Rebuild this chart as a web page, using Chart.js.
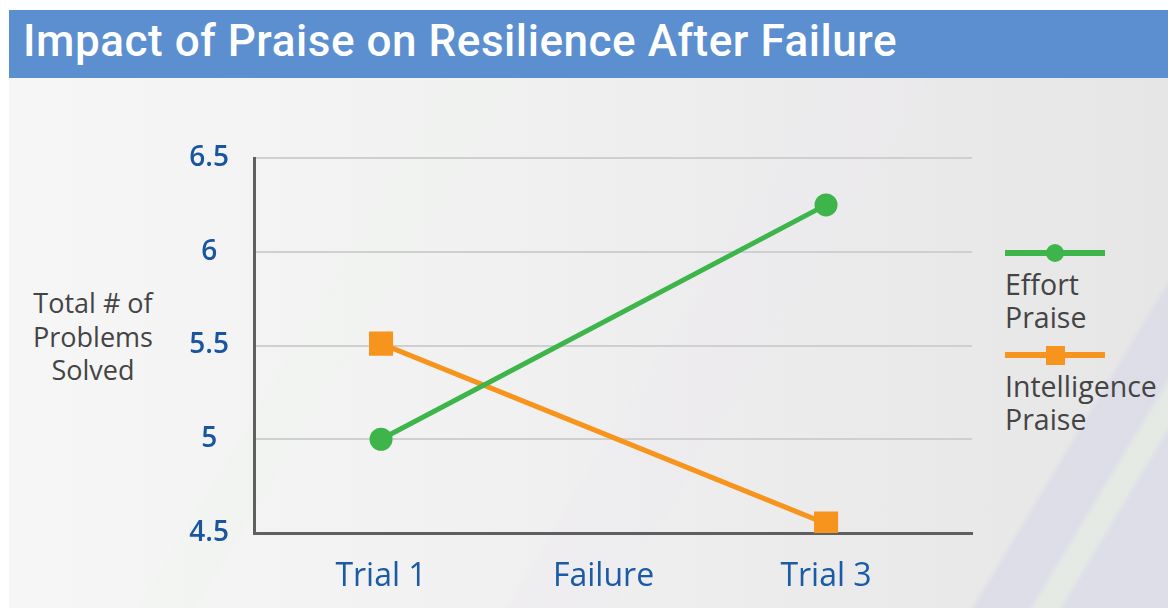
<!DOCTYPE html>
<html>
<head>
<meta charset="utf-8">
<script src="https://cdn.jsdelivr.net/npm/chart.js@4"></script>
<style>
  html, body { margin: 0; padding: 0; width: 1168px; height: 608px; background: #ffffff; overflow: hidden; }
  #title {
    position: absolute; left: 9px; top: 10px; width: 1159px; height: 68px;
    background: #5b8fd0; color: #ffffff;
    font-family: Roboto, "Noto Sans", sans-serif; font-size: 44px; font-weight: 500;
    line-height: 62px; padding-left: 14px; box-sizing: border-box; letter-spacing: 0.55px;
  }
  #body {
    position: absolute; left: 9px; top: 78px; width: 1159px; height: 530px;
    background:
      linear-gradient(121deg, rgba(255,255,255,0) 0%, rgba(255,255,255,0) 86.5%, rgba(218,218,232,0.75) 87%, rgba(218,218,232,0.75) 90.5%, rgba(228,234,228,0.8) 91%, rgba(228,234,228,0.8) 92.5%, rgba(218,218,232,0.7) 93%, rgba(218,218,232,0.7) 100%),
      linear-gradient(121deg, rgba(255,255,255,0) 0%, rgba(255,255,255,0) 30%, rgba(238,244,238,0.45) 30.5%, rgba(238,244,238,0.45) 34%, rgba(255,255,255,0) 34.5%, rgba(255,255,255,0) 55%, rgba(236,232,240,0.35) 55.5%, rgba(236,232,240,0.35) 62%, rgba(255,255,255,0) 62.5%),
      linear-gradient(90deg, #f6f6f6 0%, #f1f1f1 40%, #ebebeb 70%, #e6e6e7 100%);
  }
  #ytitle {
    position: absolute; left: 6px; top: 286px; width: 174px; text-align: center;
    font-family: "Open Sans", sans-serif; font-size: 27px; line-height: 33.5px; color: #444444;
  }
  #legend { position: absolute; left: 1005px; top: 238px; font-family: "Open Sans", sans-serif; }
  .item { margin-bottom: 6px; }
  .swatch { position: relative; width: 100px; height: 30px; }
  .swatch .ln { position: absolute; left: 0; top: 12px; width: 100px; height: 6px; }
  .swatch .mk { position: absolute; }
  .lbl { font-size: 28.5px; line-height: 33px; color: #444444; margin-left: 0px; }
  #wrap { position: absolute; left: 0; top: 0; width: 1168px; height: 608px; }
</style>
</head>
<body>
<div id="title">Impact of Praise on Resilience After Failure</div>
<div id="body"></div>
<div id="ytitle">Total # of<br>Problems<br>Solved</div>
<div id="legend"></div>
<div id="wrap"><canvas id="c" width="1168" height="608"></canvas></div>
<script>
const categories = ['Trial 1', 'Failure', 'Trial 3'];
const effortPraise = [5.0, null, 6.25];
const intelligencePraise = [5.51, null, 4.55];
const yTicks = [4.5, 5, 5.5, 6, 6.5];
const seriesNames = [['Effort', 'Praise'], ['Intelligence', 'Praise']];

const GREEN = '#3db54a';
const ORANGE = '#f7941d';

const toPoints = arr => categories.map((c, i) => ({ x: i, y: arr[i] }));

const chart = new Chart(document.getElementById('c'), {
  type: 'line',
  data: {
    datasets: [
      {
        label: seriesNames[0].join(' '),
        data: toPoints(effortPraise),
        borderColor: GREEN, backgroundColor: GREEN,
        borderWidth: 5, pointStyle: 'circle', pointRadius: 9, pointHoverRadius: 9,
        spanGaps: true, tension: 0
      },
      {
        label: seriesNames[1].join(' '),
        data: toPoints(intelligencePraise),
        borderColor: ORANGE, backgroundColor: ORANGE,
        borderWidth: 5, pointStyle: 'rect', pointRadius: 13.5, pointHoverRadius: 13.5,
        spanGaps: true, tension: 0
      }
    ]
  },
  options: {
    responsive: false,
    animation: false,
    events: [],
    layout: { padding: { left: 0, right: 196, top: 158, bottom: 0 } },
    plugins: { legend: { display: false }, tooltip: { enabled: false }, title: { display: false } },
    scales: {
      x: {
        type: 'linear',
        min: -0.571, max: 2.656,
        afterFit: s => { s.height = 75; },
        afterBuildTicks: s => { s.ticks = categories.map((c, i) => ({ value: i })); },
        ticks: {
          includeBounds: false,
          callback: v => categories[v] ?? '',
          font: { family: '"Open Sans", sans-serif', size: 32 },
          color: '#1a5aa6', padding: 25, maxRotation: 0, autoSkip: false
        },
        grid: { display: false, drawTicks: false },
        border: { display: true, color: '#5f5f5f', width: 3 }
      },
      y: {
        min: 4.5, max: 6.5,
        afterFit: s => { s.width = 254; },
        afterBuildTicks: s => { s.ticks = yTicks.map(v => ({ value: v })); },
        ticks: {
          callback: v => String(v),
          font: { family: '"Open Sans", sans-serif', size: 28, weight: '600' },
          color: '#1a55a0', padding: 25, crossAlign: 'center'
        },
        grid: { color: '#cfcfd2', lineWidth: 2, drawTicks: false },
        border: { display: true, color: '#5f5f5f', width: 3 }
      }
    }
  }
});

// HTML legend built from dataset styles
const legend = document.getElementById('legend');
chart.data.datasets.forEach((ds, i) => {
  const item = document.createElement('div');
  item.className = 'item';
  const sw = document.createElement('div');
  sw.className = 'swatch';
  const ln = document.createElement('div');
  ln.className = 'ln'; ln.style.background = ds.borderColor;
  const mk = document.createElement('div');
  mk.className = 'mk'; mk.style.background = ds.backgroundColor;
  if (ds.pointStyle === 'circle') {
    mk.style.cssText += 'left:41px;top:6px;width:18px;height:18px;border-radius:50%;';
  } else {
    mk.style.cssText += 'left:41px;top:6px;width:19px;height:19px;';
  }
  sw.appendChild(ln); sw.appendChild(mk);
  const lbl = document.createElement('div');
  lbl.className = 'lbl';
  lbl.innerHTML = seriesNames[i].join('<br>');
  item.appendChild(sw); item.appendChild(lbl);
  legend.appendChild(item);
});
</script>
</body>
</html>
